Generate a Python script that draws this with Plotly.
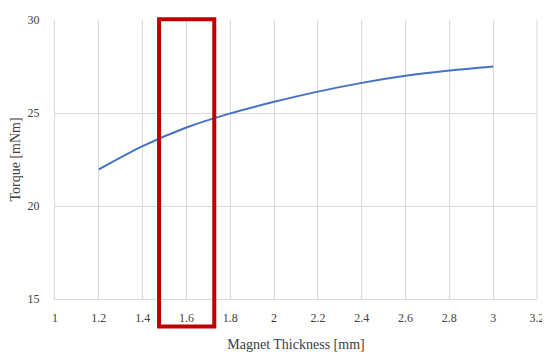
import plotly.graph_objects as go

thickness = [1.2, 1.4, 1.6, 1.8, 2.0, 2.2, 2.4, 2.6, 2.8, 3.0]
torque = [21.97, 23.22, 24.22, 24.98, 25.6, 26.15, 26.62, 27.0, 27.28, 27.5]
x_ticks = [1, 1.2, 1.4, 1.6, 1.8, 2, 2.2, 2.4, 2.6, 2.8, 3, 3.2]
y_ticks = [15, 20, 25, 30]
highlight_range = [1.475, 1.727]

font_family = "Liberation Serif"
text_color = "#404040"
grid_color = "#d9d9d9"

fig = go.Figure()
fig.add_trace(go.Scatter(
    x=thickness, y=torque, mode="lines",
    line=dict(color="#4472C4", width=2, shape="spline", smoothing=0.8),
    showlegend=False, hoverinfo="skip",
))

fig.add_shape(
    type="rect", xref="x", yref="paper",
    x0=highlight_range[0], x1=highlight_range[1], y0=-0.099, y1=1.003,
    line=dict(color="#C00000", width=4), fillcolor="rgba(0,0,0,0)", layer="above",
)

fig.update_layout(
    width=550, height=359,
    margin=dict(l=47, r=21, t=12, b=68, autoexpand=False),
    paper_bgcolor="white", plot_bgcolor="white",
    font=dict(family=font_family, size=12, color=text_color),
    xaxis=dict(
        range=[1, 3.2], tickvals=x_ticks, ticktext=[f"{v:g}" for v in x_ticks],
        showgrid=True, gridcolor=grid_color, gridwidth=1,
        showline=True, linecolor=grid_color, linewidth=1, mirror=False,
        zeroline=False, ticks="", ticklabelstandoff=8, automargin=False,
        tickfont=dict(family=font_family, size=12, color=text_color),
        title=dict(text="Magnet Thickness [mm]", font=dict(family=font_family, size=14, color=text_color), standoff=14),
        fixedrange=True,
    ),
    yaxis=dict(
        range=[15, 30], tickvals=y_ticks,
        showgrid=True, gridcolor=grid_color, gridwidth=1,
        showline=True, linecolor=grid_color, linewidth=1,
        zeroline=False, ticks="", ticklabelstandoff=12, automargin=False,
        tickfont=dict(family=font_family, size=12, color=text_color),
        title=dict(text="Torque [mNm]", font=dict(family=font_family, size=14, color=text_color), standoff=12),
        fixedrange=True,
    ),
)
fig.add_shape(type="line", xref="paper", yref="paper", x0=1, x1=1, y0=0, y1=1,
              line=dict(color=grid_color, width=1), layer="below")

fig.write_html("out.html")
